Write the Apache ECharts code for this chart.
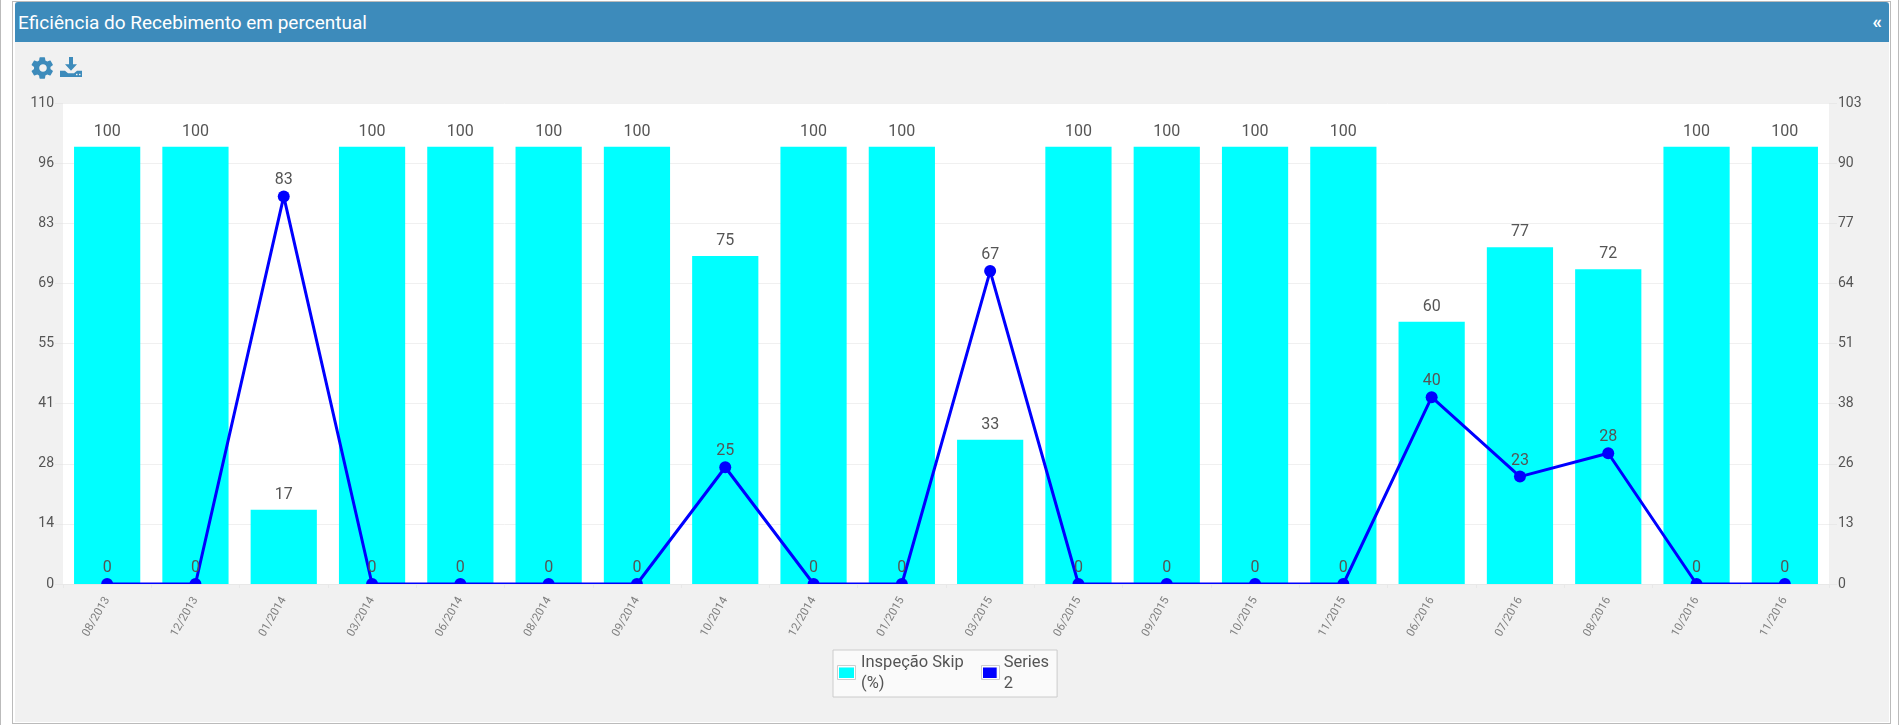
<!DOCTYPE html>
<html lang="pt">
<head>
<meta charset="utf-8">
<title>Eficiência do Recebimento em percentual</title>
<script src="https://cdn.jsdelivr.net/npm/echarts@6/dist/echarts.min.js"></script>
<style>
  html, body { margin: 0; padding: 0; background: #fff; overflow: hidden; }
  body { width: 1900px; height: 725px; position: relative; font-family: Roboto, sans-serif; }
  #leftEdge { position: absolute; left: 0; top: 0; width: 1px; height: 725px; background: #bbb; }
  #rightEdge { position: absolute; left: 1898px; top: 0; width: 1px; height: 725px; background: #bbb; }
  #panel { position: absolute; left: 12px; top: 1px; width: 1877px; height: 721px; border: 1px solid #bbb; background: #fff; }
  #inner { position: absolute; left: 2px; top: 0; width: 1874px; height: 720px; background: #f1f1f1; }
  #header { position: absolute; left: 0; top: 0; width: 1874px; height: 40px; background: #3d8bbb; border-radius: 3px 3px 0 0; color: #fff; font-size: 19px; line-height: 41px; }
  #header .title { position: absolute; left: 3px; top: 0; }
  #header .toggle { position: absolute; right: 7px; top: -1px; font-size: 19px; font-weight: bold; }
  #tools { position: absolute; left: 32px; top: 56px; width: 54px; height: 24px; z-index: 2; }
  #tools svg { position: absolute; fill: #3d8bbb; }
  #chart { position: absolute; left: 0; top: 0; width: 1900px; height: 725px; }
</style>
</head>
<body>
<div id="leftEdge"></div>
<div id="rightEdge"></div>
<div id="panel">
  <div id="inner">
    <div id="header">
      <span class="title">Eficiência do Recebimento em percentual</span>
      <span class="toggle">«</span>
    </div>
  </div>
</div>
<div id="chart"></div>
<div id="tools">
  <svg style="left:-1px;top:0" width="24" height="24" viewBox="0 0 24 24"><path d="M19.4 13c.1-.3.1-.7.1-1s0-.7-.1-1l2.3-1.8c.2-.2.3-.4.1-.7l-2.200-3.800c-.1-.2-.4-.3-.7-.2l-2.700 1.100c-.6-.4-1.200-.8-1.800-1l-.4-2.900c0-.3-.3-.5-.5-.5h-4.400c-.3 0-.5.200-.6.500l-.4 2.900c-.7.2-1.300.6-1.800 1l-2.700-1.100c-.3-.1-.6 0-.7.200l-2.200 3.800c-.1.300-.1.500.1.700l2.300 1.800c0 .3-.1.7-.1 1s0 .7.100 1l-2.300 1.800c-.2.200-.3.400-.1.700l2.200 3.800c.1.200.4.300.7.200l2.700-1.100c.5.400 1.100.8 1.800 1l.4 2.900c.1.300.3.500.6.500h4.400c.2 0 .5-.2.500-.5l.4-2.900c.6-.2 1.200-.6 1.800-1l2.700 1.100c.3.100.6 0 .7-.2l2.200-3.800c.2-.3.100-.5-.1-.7zM12 15.800c-2.100 0-3.800-1.700-3.800-3.800s1.700-3.800 3.800-3.800 3.800 1.700 3.800 3.800-1.700 3.800-3.800 3.800z"/></svg>
  <svg style="left:28px;top:1px" width="22" height="20" viewBox="0 0 22 22" preserveAspectRatio="none"><path d="M9 0h4v8h4l-6 7-6-7h4z"/><path d="M0 15h5l3 3h6l3-3h5v7H0z"/><rect x="16" y="18.500" width="1.500" height="1.500" fill="#f1f1f1"/><rect x="19" y="18.500" width="1.500" height="1.500" fill="#f1f1f1"/></svg>
</div>
<script>
// Recebimento: percentual de inspeção por mês
const categories = ['08/2013','12/2013','01/2014','03/2014','06/2014','08/2014','09/2014','10/2014','12/2014','01/2015','03/2015','06/2015','09/2015','10/2015','11/2015','06/2016','07/2016','08/2016','10/2016','11/2016'];
const skipValues = [100,100,17,100,100,100,100,75,100,100,33,100,100,100,100,60,77,72,100,100];
const series2Values = [0,0,83,0,0,0,0,25,0,0,67,0,0,0,0,40,23,28,0,0];
const leftTicks = ['0','14','28','41','55','69','83','96','110'];
const rightTicks = ['0','13','26','38','51','64','77','90','103'];
const leftMax = 110;
const rightMax = 103;

const textColor = '#555';
const fontFamily = 'Roboto, sans-serif';
const chart = echarts.init(document.getElementById('chart'), null, { renderer: 'canvas' });

// Each value axis has eight equal steps, labelled from its own list.
const stepLabel = (ticks, max) => v => ticks[Math.round(v / (max / 8))];

const valueAxis = (max, ticks) => ({
  type: 'value', min: 0, max, interval: max / 8,
  axisLine: { show: false },
  axisTick: { show: true, length: 8, lineStyle: { color: '#e8e8e8' } },
  axisLabel: { color: textColor, fontSize: 14, fontFamily, margin: 9, formatter: stepLabel(ticks, max) },
  splitLine: { show: true, lineStyle: { color: '#f0f0f0', width: 1 } }
});

// Outer grey and inner white outline of a legend swatch.
const swatchFrame = x => [
  { type: 'rect', z: 100, silent: true, shape: { x: x + 0.5, y: 665.5, width: 18, height: 14 }, style: { fill: 'none', stroke: '#ccc', lineWidth: 1 } },
  { type: 'rect', z: 100, silent: true, shape: { x: x + 1.5, y: 666.5, width: 16, height: 12 }, style: { fill: 'none', stroke: '#fff', lineWidth: 1 } }
];

chart.setOption({
  animation: false,
  textStyle: { fontFamily },
  grid: { left: 63, right: 71, top: 103, bottom: 141, show: true, backgroundColor: '#fff', borderWidth: 0 },
  xAxis: {
    type: 'category', data: categories, z: 10,
    axisLine: { show: true, lineStyle: { color: '#e8e8e8' } },
    axisTick: { show: true, alignWithLabel: false, length: 4, lineStyle: { color: '#e8e8e8' } },
    axisLabel: { color: '#808080', fontSize: 11.5, fontFamily, rotate: 60, margin: 14, interval: 0 }
  },
  yAxis: [
    valueAxis(leftMax, leftTicks),
    Object.assign(valueAxis(rightMax, rightTicks), { position: 'right', splitLine: { show: false } })
  ],
  legend: {
    left: 833, top: 650, width: 400, padding: [2, 8, 3, 6],
    orient: 'horizontal', itemWidth: 15, itemHeight: 11, itemGap: 18,
    backgroundColor: '#fafafa', borderColor: '#ccc', borderWidth: 1, borderRadius: 0,
    icon: 'rect',
    textStyle: { color: textColor, fontSize: 16.5, fontFamily, lineHeight: 21, padding: [0, 0, 0, 2] },
    formatter: name => name === 'Inspeção Skip (%)' ? 'Inspeção Skip\n(%)' : 'Series\n2',
    selectedMode: false, z: 12
  },
  graphic: [
    // Hides the lower half of the markers that sit on the baseline.
    { type: 'rect', z: 5, silent: true, shape: { x: 63, y: 585, width: 1766, height: 14 }, style: { fill: '#f1f1f1' } },
    ...swatchFrame(837),
    ...swatchFrame(981)
  ],
  series: [
    {
      name: 'Inspeção Skip (%)', type: 'bar', yAxisIndex: 0, data: skipValues, barWidth: '75%',
      itemStyle: { color: '#00ffff' }, z: 2,
      label: { show: true, position: 'top', distance: 7, color: textColor, fontSize: 16, fontFamily }
    },
    {
      name: 'Series 2', type: 'line', yAxisIndex: 1, data: series2Values,
      symbol: 'circle', symbolSize: 12, clip: false, z: 3,
      lineStyle: { color: '#0000ff', width: 3 }, itemStyle: { color: '#0000ff' },
      label: { show: true, position: 'top', distance: 2, color: textColor, fontSize: 16, fontFamily }
    }
  ]
});
</script>
</body>
</html>
